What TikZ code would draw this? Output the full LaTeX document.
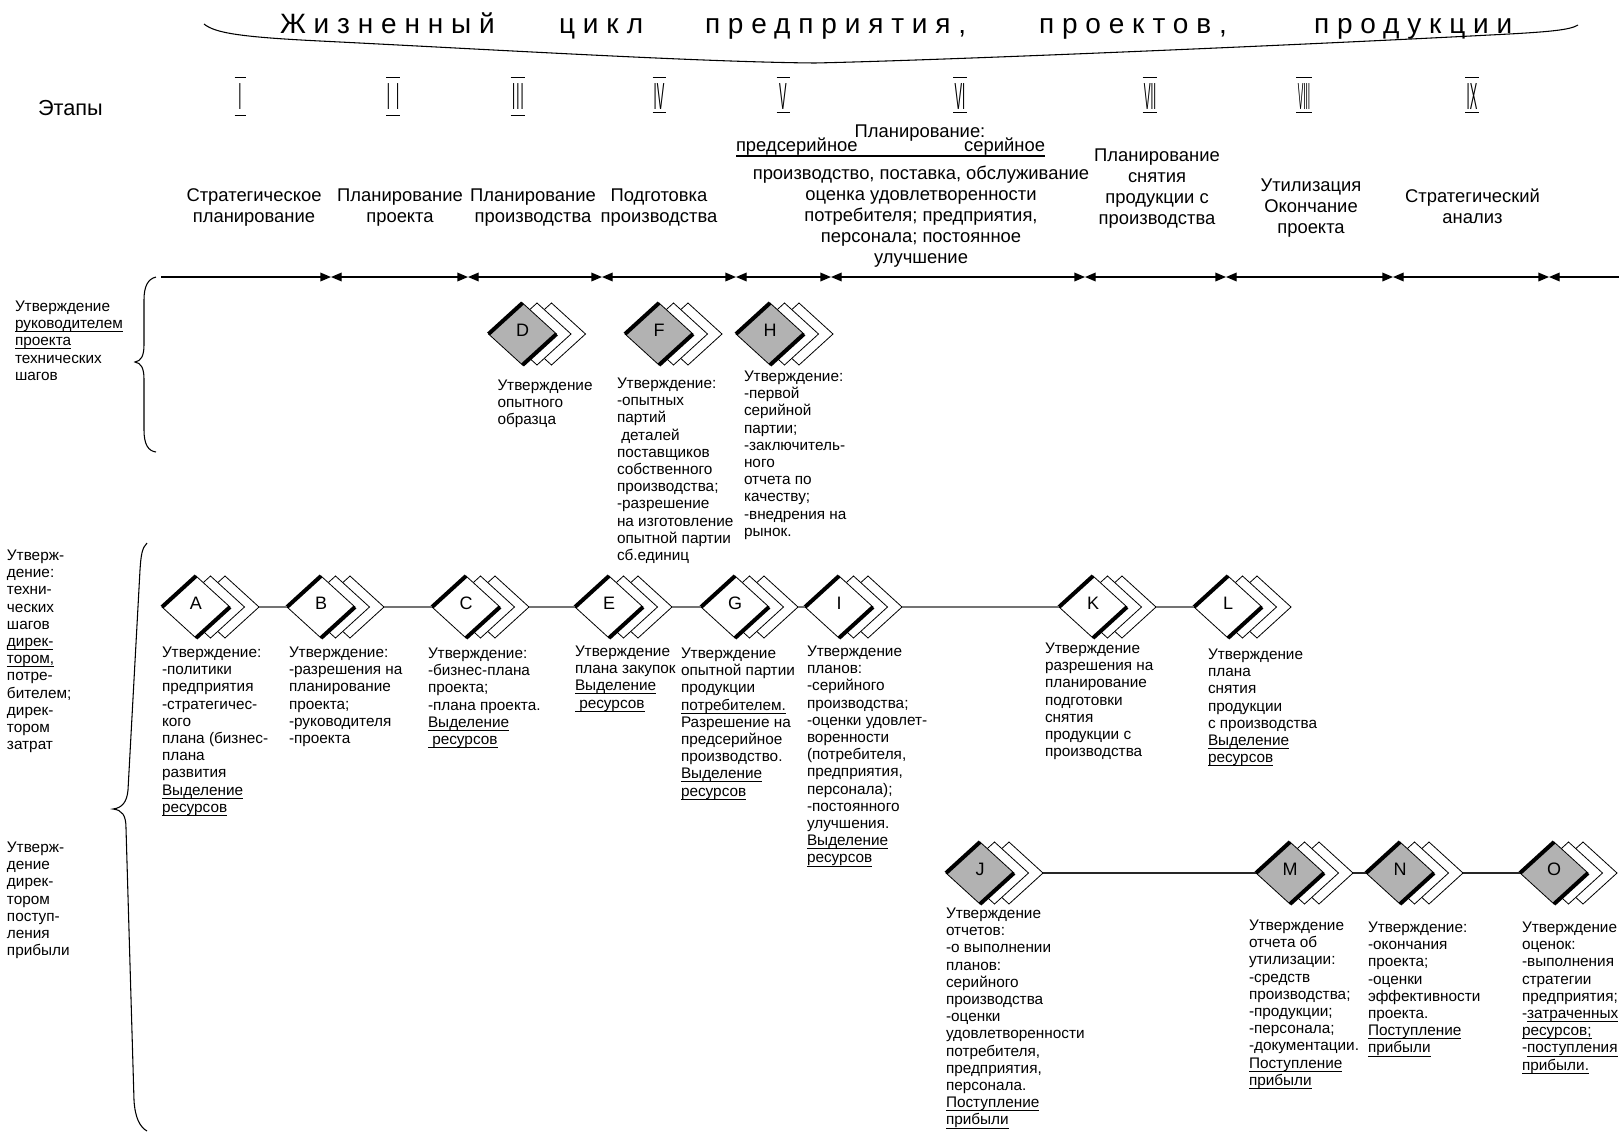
\documentclass[tikz,border=0pt]{standalone}
\usepackage{fontspec}
\usepackage{graphicx}
\setmainfont{Liberation Sans}
\newfontfamily\titlefont[LetterSpace=28]{Liberation Sans}
\usetikzlibrary{arrows.meta}

\newcommand\ul[1]{\leavevmode\setbox0\hbox{#1}\rlap{\rule[-2.6pt]{\wd0}{0.7pt}}\box0}

\tikzset{
  every node/.style={inner sep=0pt, outer sep=0pt},
  ann/.style={anchor=north west, align=left, font=\fontsize{11.5}{12.9}\selectfont},
  lbl/.style={anchor=north west, align=left, font=\fontsize{11.5}{12.9}\selectfont},
  hdr/.style={anchor=north, align=center, font=\fontsize{13.8}{15.8}\selectfont},
  ttl/.style={anchor=base west, font=\titlefont\fontsize{21}{24}\selectfont},
  rom/.style={anchor=center, font=\fontsize{28.3}{30}\selectfont},
  bar/.style={line width=0.75pt},
  tl/.style={line width=1pt},
  conn/.style={draw=black!55, line width=1.1pt},
  connb/.style={draw=black!85, line width=0.8pt},
  dback/.style={draw=black, line width=0.6pt, fill=white},
  dmain/.style={draw=black, line width=0.6pt},
  dthick/.style={line width=3pt},
  dlab/.style={font=\fontsize{13.5}{15}\selectfont},
  brc/.style={line width=0.8pt},
}

\newcommand\mydiam[5]{%
  \begin{scope}[shift={(#2,#3)}]
    \filldraw[dback] (-5,0) -- (29,-31) -- (63,0) -- (29,31) -- cycle;
    \filldraw[dback] (-19.5,0) -- (14.5,-31) -- (48.5,0) -- (14.5,31) -- cycle;
    \filldraw[dmain, fill=#4] (-34,0) -- (0,-31) -- (34,0) -- (0,31) -- cycle;
    \draw[dthick] (-34,0) -- (0,-31) (34,0) -- (0,31);
    \node[dlab] (#1) at (0,-4) {#5};
    \coordinate (#1l) at (-34,0);
    \coordinate (#1r) at (63,0);
  \end{scope}}

\begin{document}
\begin{tikzpicture}[x=0.75pt,y=-0.75pt,>={Triangle[length=8pt,width=6.5pt]}]
\useasboundingbox (0,0) rectangle (1619,1136);
\clip (0,0) rectangle (1619,1136);

% ---------- title ----------
\node[ttl] (w1) at (280,33) {Жизненный};
\node[ttl] (w2) at (559,33) {цикл};
\node[ttl] (w3) at (705,33) {предприятия,};
\node[ttl] (w4) at (1039,33) {проектов,};
\node[ttl] (w5) at (1314,33) {продукции};
\draw[brc] (204,24) .. controls (215,33) and (240,37) .. (320,41)
  .. controls (500,50) and (700,62) .. (815,63)
  .. controls (950,60) and (1300,45) .. (1490,35)
  .. controls (1550,32) and (1570,30) .. (1578,25);

% ---------- stages ----------
\node[anchor=west, font=\fontsize{16.3}{18}\selectfont] (etap) at (38,108) {Этапы};
\foreach \i/\t/\x/\b/\bb in {
   1/{\scalebox{0.3}[1]{I}}/240/5.5/115,
   2/{\scalebox{0.3}[1]{I\kern15pt I}}/393/6.8/115,
   3/{\scalebox{0.3}[1]{I\kern2.6pt I\kern2.6pt I}}/518/7.3/115,
   4/{\scalebox{0.3}[1]{IV}}/659/6.5/112,
   5/{\scalebox{0.3}[1]{V}}/783/6.5/112,
   6/{\scalebox{0.3}[1]{VI}}/960/7/112,
   7/{\scalebox{0.27}[1]{VII}}/1150/7.3/112,
   8/{\scalebox{0.22}[1]{VIII}}/1304/7.8/112,
   9/{\scalebox{0.3}[1]{IX}}/1472/7/112}{
  \node[rom] (r\i) at (\x,96.5) {\t};
  \draw[bar] (\x-\b,77) -- (\x+\b,77) (\x-\b,\bb) -- (\x+\b,\bb);
}

% ---------- stage headers ----------
\node[hdr] (s1) at (254,188.5) {Стратегическое\\планирование};
\node[hdr] (s2) at (400,188.5) {Планирование\\проекта};
\node[hdr] (s3) at (533,188.5) {Планирование\\производства};
\node[hdr] (s4) at (659,188.5) {Подготовка\\производства};
\node[hdr] (plan) at (920,124.5) {Планирование:};
\node[hdr, anchor=base west] (pre) at (736,151.5) {предсерийное};
\node[hdr, anchor=base east] (ser) at (1045,151.5) {серийное};
\draw[line width=1pt] ([yshift=-3.4pt]pre.base west) -- ([yshift=-3.4pt]ser.base east);
\node[hdr] (s6) at (921,165.5) {производство, поставка, обслуживание\\оценка удовлетворенности\\потребителя; предприятия,\\персонала; постоянное\\улучшение};
\node[hdr] (s7) at (1157,148.5) {Планирование\\снятия\\продукции с\\производства};
\node[hdr] (s8) at (1311,178.5) {Утилизация\\Окончание\\проекта};
\node[hdr] (s9) at (1472.5,188.5) {Стратегический\\анализ};

% ---------- timeline ----------
\coordinate (p0) at (161,277);
\coordinate (p1) at (331,277);
\coordinate (p2) at (468,277);
\coordinate (p3) at (602,277);
\coordinate (p4) at (736,277);
\coordinate (p5) at (831,277);
\coordinate (p6) at (1085,277);
\coordinate (p7) at (1226,277);
\coordinate (p8) at (1393,277);
\coordinate (p9) at (1549,277);
\coordinate (p10) at (1640,277);
\draw[tl,->] (p0) -- (p1);
\foreach \a/\b in {p1/p2,p2/p3,p3/p4,p4/p5,p5/p6,p6/p7,p7/p8,p8/p9}{
  \draw[tl,<->] (\a) -- (\b);
}
\draw[tl,<-] (p9) -- (p10);

% ---------- left braces and labels ----------
\draw[brc] (156,277) .. controls (148,279) and (144,286) .. (144,300) -- (144,345)
  .. controls (144,356) and (141,361) .. (135,362)
  .. controls (141,363) and (144,368) .. (144,379) -- (144,430)
  .. controls (144,444) and (148,451) .. (156,452);
\draw[brc] (147,543) .. controls (142,548) and (141,555) .. (140,570) -- (128,790)
  .. controls (127,802) and (122,808) .. (113,809)
  .. controls (122,810) and (126,815) .. (126,828) -- (134,1100)
  .. controls (135,1118) and (140,1127) .. (147,1131);

\node[lbl] (lab1) at (15,301) {Утверждение\\\ul{руководителем}\\\ul{проекта}\\технических\\шагов};
\node[lbl] (lab2) at (7,550) {Утверж-\\дение:\\техни-\\ческих\\шагов\\\ul{дирек-}\\\ul{тором,}\\потре-\\бителем;\\дирек-\\тором\\затрат};
\node[lbl] (lab3) at (7,842) {Утверж-\\дение\\дирек-\\тором\\поступ-\\ления\\прибыли};

% ---------- diamonds ----------
\mydiam{D}{522.5}{334}{black!30}{D}
\mydiam{F}{659}{334}{black!30}{F}
\mydiam{H}{770}{334}{black!30}{H}

\mydiam{A}{196}{607}{white}{A}
\mydiam{B}{321}{607}{white}{B}
\mydiam{C}{466}{607}{white}{C}
\mydiam{E}{609}{607}{white}{E}
\mydiam{G}{735}{607}{white}{G}
\mydiam{I}{839}{607}{white}{I}
\mydiam{K}{1093}{607}{white}{K}
\mydiam{L}{1228}{607}{white}{L}

\mydiam{J}{980}{873}{black!30}{J}
\mydiam{M}{1290}{873}{black!30}{M}
\mydiam{N}{1400}{873}{black!30}{N}
\mydiam{O}{1554}{873}{black!30}{O}

\foreach \a/\b in {A/B,B/C,C/E,E/G,G/I,I/K,K/L}{
  \draw[conn] (\a r) -- (\b l);
}
\foreach \a/\b in {J/M,M/N,N/O}{
  \draw[connb] (\a r) -- (\b l);
}

% ---------- annotations ----------
\node[ann] (tD) at (497.5,380) {Утверждение\\опытного\\образца};
\node[ann] (tF) at (617,378) {Утверждение:\\-опытных\\партий\\\ деталей\\поставщиков\\собственного\\производства;\\-разрешение\\на изготовление\\опытной партии\\сб.единиц};
\node[ann] (tH) at (744,371) {Утверждение:\\-первой\\серийной\\партии;\\-заключитель-\\ного\\отчета по\\качеству;\\-внедрения на\\рынок.};

\node[ann] (tA) at (162,647) {Утверждение:\\-политики\\предприятия\\-стратегичес-\\кого\\плана (бизнес-\\плана\\развития\\\ul{Выделение}\\\ul{ресурсов}};
\node[ann] (tB) at (289,647) {Утверждение:\\-разрешения на\\планирование\\проекта;\\-руководителя\\-проекта};
\node[ann] (tC) at (428,648) {Утверждение:\\-бизнес-плана\\проекта;\\-плана проекта.\\\ul{Выделение}\\\ul{\ ресурсов}};
\node[ann] (tE) at (575,646) {Утверждение\\плана закупок\\\ul{Выделение}\\\ul{\ ресурсов}};
\node[ann] (tG) at (681,648) {Утверждение\\опытной партии\\продукции\\\ul{потребителем.}\\Разрешение на\\предсерийное\\производство.\\\ul{Выделение}\\\ul{ресурсов}};
\node[ann] (tI) at (807,646) {Утверждение\\планов:\\-серийного\\производства;\\-оценки удовлет-\\воренности\\(потребителя,\\предприятия,\\персонала);\\-постоянного\\улучшения.\\\ul{Выделение}\\\ul{ресурсов}};
\node[ann] (tK) at (1045,643) {Утверждение\\разрешения на\\планирование\\подготовки\\снятия\\продукции с\\производства};
\node[ann] (tL) at (1208,649) {Утверждение\\плана\\снятия\\продукции\\с производства\\\ul{Выделение}\\\ul{ресурсов}};

\node[ann] (tJ) at (946,908) {Утверждение\\отчетов:\\-о выполнении\\планов:\\серийного\\производства\\-оценки\\удовлетворенности\\потребителя,\\предприятия,\\персонала.\\\ul{Поступление}\\\ul{прибыли}};
\node[ann] (tM) at (1249,920) {Утверждение\\отчета об\\утилизации:\\-средств\\производства;\\-продукции;\\-персонала;\\-документации.\\\ul{Поступление}\\\ul{прибыли}};
\node[ann] (tN) at (1368,922) {Утверждение:\\-окончания\\проекта;\\-оценки\\эффективности\\проекта.\\\ul{Поступление}\\\ul{прибыли}};
\node[ann] (tO) at (1522,922) {Утверждение\\оценок:\\-выполнения\\стратегии\\предприятия;\\-\ul{затраченных}\\\ul{ресурсов;}\\-\ul{поступления}\\\ul{прибыли.}};
\end{tikzpicture}
\end{document}
